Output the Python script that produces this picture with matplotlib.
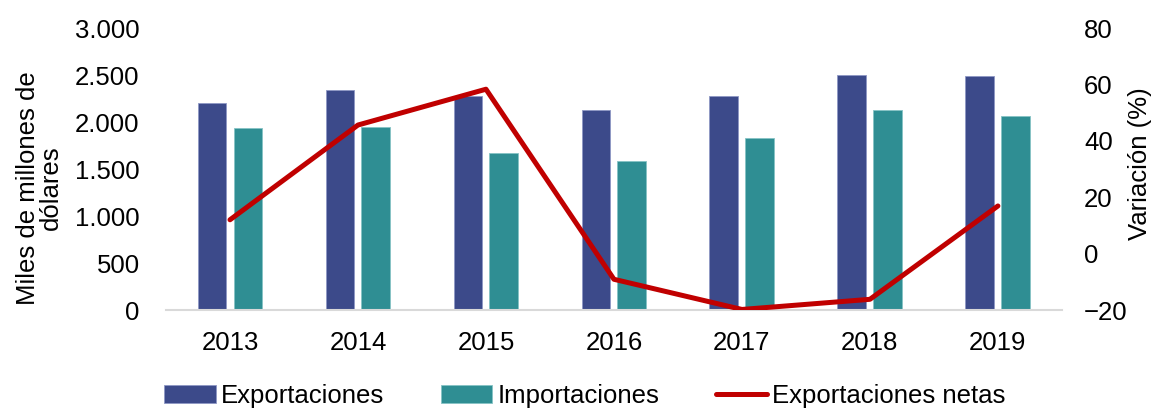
import matplotlib.pyplot as plt
import numpy as np
from matplotlib.ticker import FuncFormatter

plt.rcParams['font.family'] = ['Liberation Sans', 'DejaVu Sans']

anios = ["2013", "2014", "2015", "2016", "2017", "2018", "2019"]
exportaciones = [2200, 2340, 2280, 2130, 2275, 2495, 2490]
importaciones = [1940, 1950, 1670, 1580, 1835, 2125, 2060]
exp_netas = [12.0, 45.6, 58.3, -9.1, -19.8, -16.2, 16.9]

c_exp = "#3C4A8A"
c_imp = "#2F8E93"
c_net = "#C00000"
fs = 18.5

fig = plt.figure(figsize=(11.56, 4.09), dpi=100)
ax = fig.add_axes([0.1436, 0.242, 0.775, 0.6895])
ax2 = ax.twinx()

x = np.arange(len(anios))
w = 0.226
g = 0.055
ax.bar(x - (w + g) / 2, exportaciones, w, color=c_exp, edgecolor="#8E97C4",
       linewidth=0.6, label="Exportaciones", zorder=2)
ax.bar(x + (w + g) / 2, importaciones, w, color=c_imp, edgecolor="#86C3C5",
       linewidth=0.6, label="Importaciones", zorder=2)
ax2.plot(x, exp_netas, color=c_net, linewidth=3.6, solid_capstyle="round",
         label="Exportaciones netas")

ax.set_xlim(-0.5, len(anios) - 0.5)
ax.set_ylim(0, 3000)
ax.set_yticks(np.arange(0, 3001, 500))
ax.yaxis.set_major_formatter(FuncFormatter(lambda v, p: f"{int(v):,}".replace(",", ".")))
ax2.set_ylim(-20, 80)
ax2.set_yticks(np.arange(-20, 81, 20))

ax.set_xticks(x)
ax.set_xticklabels(anios)

for a in (ax, ax2):
    for s in a.spines.values():
        s.set_visible(False)
    a.tick_params(length=0, labelsize=fs, colors="black")
ax.spines["bottom"].set_visible(True)
ax.spines["bottom"].set_color("#D9D9D9")
ax.spines["bottom"].set_linewidth(1.5)
ax.tick_params(axis="y", pad=19)
ax.tick_params(axis="x", pad=15)
ax2.tick_params(axis="y", pad=16)

ax.set_ylabel("Miles de millones de\ndólares", fontsize=fs, linespacing=0.95)
ax.yaxis.set_label_coords(-0.115, 0.433)
ax2.set_ylabel("Variación (%)", fontsize=fs)
ax2.yaxis.set_label_coords(1.074, 0.52)

h1, l1 = ax.get_legend_handles_labels()
h2, l2 = ax2.get_legend_handles_labels()
fig.legend(h1 + h2, l1 + l2, loc="center", bbox_to_anchor=(0.506, 0.032), ncol=3,
           frameon=False, fontsize=fs, handlelength=2.0, handleheight=0.75,
           handletextpad=0.2, columnspacing=2.2, borderpad=0.1)

fig.savefig("out.png", dpi=100)
